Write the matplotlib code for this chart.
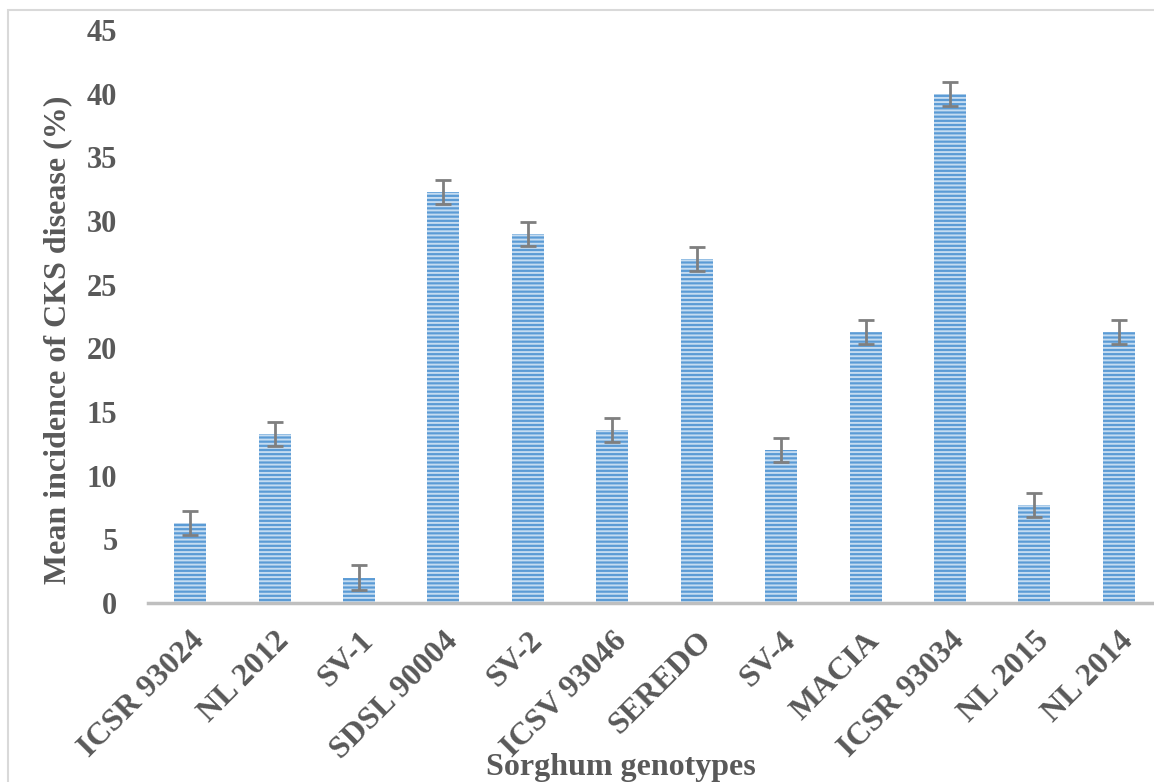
import numpy as np
import matplotlib
matplotlib.use("Agg")
import matplotlib.pyplot as plt
import matplotlib.transforms as mtrans
from matplotlib.patches import Rectangle

# datos
genotipos = ["ICSR 93024", "NL 2012", "SV-1", "SDSL 90004", "SV-2", "ICSV 93046",
             "SEREDO", "SV-4", "MACIA", "ICSR 93034", "NL 2015", "NL 2014"]
incidencia = [6.3, 13.3, 2.0, 32.3, 29.0, 13.6, 27.0, 12.0, 21.3, 40.0, 7.7, 21.3]
error = [0.95, 0.95, 0.95, 0.95, 0.95, 0.95, 0.95, 0.95, 0.95, 0.95, 0.95, 0.95]
yticks = [0, 5, 10, 15, 20, 25, 30, 35, 40, 45]

gris = "#595959"
plt.rcParams["font.family"] = ["Liberation Serif", "DejaVu Serif"]
plt.rcParams["font.weight"] = "bold"
plt.rcParams["hatch.color"] = "#C5DCF1"
plt.rcParams["hatch.linewidth"] = 1.4

W, H = 1154, 782
fig = plt.figure(figsize=(W / 100, H / 100), dpi=100)
# borde exterior del grafico (estilo excel)
fig.patches.append(Rectangle((8 / W, -0.1), 1.2, 1 - 10 / H + 0.1, transform=fig.transFigure,
                             fill=False, edgecolor="#D9D9D9", linewidth=1.5))

ax = fig.add_axes([148 / W, 1 - 603 / H, (1161 - 148) / W, (603 - 30) / H])
x = np.arange(len(genotipos))
ax.bar(x, incidencia, width=0.38, color="#5B9BD5", linewidth=0, hatch="----")
ax.errorbar(x, incidencia, yerr=error, fmt="none", ecolor="#7F7F7F",
            elinewidth=2, capsize=6, capthick=2)

ax.set_xlim(-0.5, len(genotipos) - 0.5)
ax.set_ylim(0, 45)
ax.set_yticks(yticks)
ax.set_yticklabels([str(t) for t in yticks], fontsize=22, color=gris, fontweight="bold")
ax.set_xticks(x)
ax.set_xticklabels(genotipos, fontsize=23, color=gris, fontweight="bold",
                   rotation=45, ha="right", va="top", rotation_mode="anchor")
desplaza = mtrans.ScaledTranslation(-17 / 100, 0, fig.dpi_scale_trans)
for lbl in ax.get_xticklabels():
    lbl.set_transform(lbl.get_transform() + desplaza)
ax.tick_params(axis="both", length=0)
ax.tick_params(axis="y", pad=22)
ax.tick_params(axis="x", pad=17)
for s in ["top", "right", "left"]:
    ax.spines[s].set_visible(False)
ax.spines["bottom"].set_color("#BFBFBF")
ax.spines["bottom"].set_linewidth(2.5)

fig.text(58 / W, 1 - 340 / H, "Mean incidence of CKS disease (%)", rotation=90,
         ha="center", va="center", fontsize=23, color=gris, fontweight="bold")
fig.text(621 / W, 1 - 767 / H, "Sorghum genotypes", ha="center", va="center",
         fontsize=23, color=gris, fontweight="bold")

fig.savefig("out.png", dpi=100)
